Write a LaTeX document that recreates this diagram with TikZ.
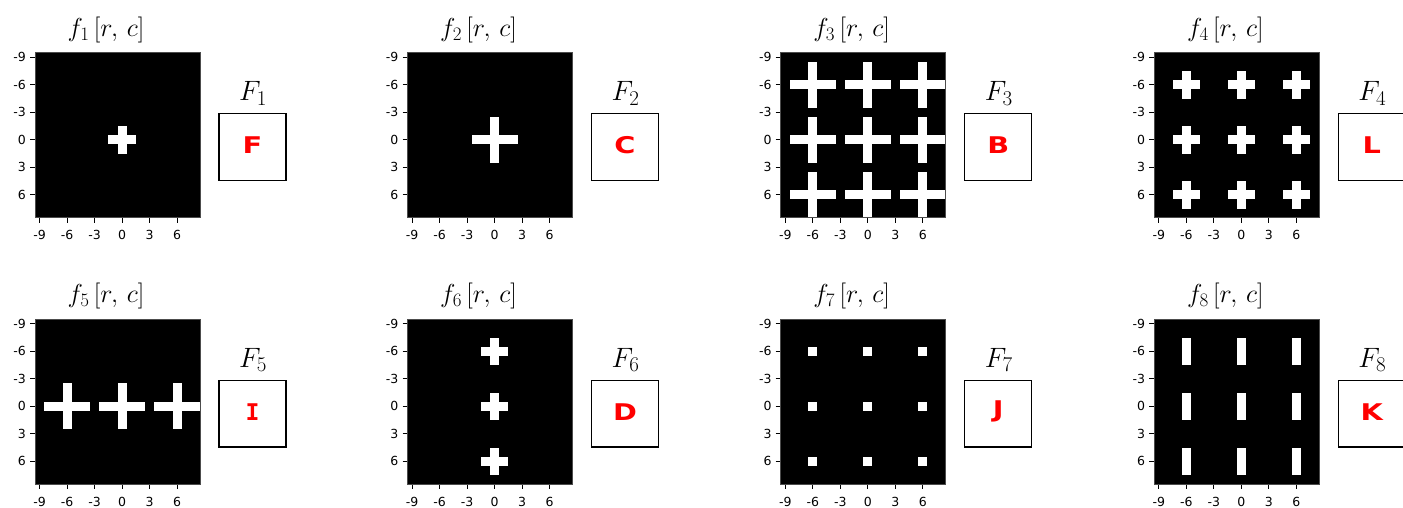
\RequirePackage{fix-cm}
\documentclass[tikz,border=0pt]{standalone}
\usepackage[no-math]{fontspec}
\newfontfamily\tickfont{DejaVu Sans}
\newfontfamily\letterfont{DejaVu Sans}
\newfontfamily\monoletterfont{DejaVu Sans Mono}
\DeclareMathSizes{26}{26}{19}{14}
\DeclareMathSizes{28}{28}{21}{15}
\tikzset{
  pixfill/.style={fill=white},
  tickline/.style={draw=black,line width=1pt},
  ticklab/.style={font=\tickfont\fontsize{12.5}{13}\selectfont,inner sep=0pt},
  titlelab/.style={font=\fontsize{26}{28}\selectfont,inner sep=0pt,anchor=base},
  boxlab/.style={font=\fontsize{28}{30}\selectfont,inner sep=0pt,anchor=base},
  letterbox/.style={draw=black,line width=1.3pt,fill=white},
  letterlab/.style={text=red,inner sep=0pt,xscale=1.25,font=\letterfont\fontsize{23}{23}\selectfont\bfseries}
}
% white rectangle over cells: ox, oy, c1, c2, r1, r2
\newcommand\wrectpx[6]{\fill[pixfill] ({#1+(#3+9)*9.1667},{#2+(#5+9)*9.1667}) rectangle ({#1+(#4+10)*9.1667},{#2+(#6+10)*9.1667});}
\newcommand\smallplusPx[4]{\wrectpx{#1}{#2}{#3-1}{#3+1}{#4}{#4}\wrectpx{#1}{#2}{#3}{#3}{#4-1}{#4+1}}
\newcommand\bigplusPx[4]{\wrectpx{#1}{#2}{#3-2}{#3+2}{#4}{#4}\wrectpx{#1}{#2}{#3}{#3}{#4-2}{#4+2}}
\newcommand\onedotPx[4]{\wrectpx{#1}{#2}{#3}{#3}{#4}{#4}}
\newcommand\vbarPx[4]{\wrectpx{#1}{#2}{#3}{#3}{#4-1}{#4+1}}
% panel frame: ox, oy, index
\newcommand\panelbase[3]{%
  \fill[black] (#1,#2) rectangle ({#1+165},{#2+165});
  \foreach \v in {-9,-6,-3,0,3,6}{
    \draw[tickline] ({#1+(\v+9.5)*9.1667},{#2+165}) -- ({#1+(\v+9.5)*9.1667},{#2+170});
    \node[ticklab,anchor=base] at ({#1+(\v+9.5)*9.1667},{#2+187}) {\v};
    \draw[tickline] ({#1-5},{#2+(\v+9.5)*9.1667}) -- (#1,{#2+(\v+9.5)*9.1667});
    \node[ticklab,anchor=base east] at ({#1-9},{#2+(\v+9.5)*9.1667+4.6}) {\v};
  }
  \node[titlelab] (t#3) at ({#1+71},{#2-16.4}) {$f_{#3}\,[r,\,c]$};
  \draw[letterbox] ({#1+184},{#2+61}) rectangle ({#1+251},{#2+127.6});
  \coordinate (b#3) at ({#1+217.5},{#2+92.5});
  \node[boxlab] (F#3) at ({#1+218},{#2+48.3}) {$F_{#3}$};
}
\newcommand\panelborder[2]{\draw[draw=black!70,line width=1pt] (#1,#2) rectangle ({#1+165},{#2+165});}
\begin{document}
\begin{tikzpicture}[x=1pt,y=-1pt]
\useasboundingbox (0,0) rectangle (1403,508);
\clip (0,0) rectangle (1403,508);
\fill[white] (0,0) rectangle (1403,508);
% ---------- row 1 ----------
\panelbase{35}{52.7}{1}
\smallplusPx{35}{52.7}{0}{0}
\panelborder{35}{52.7}
\node[letterlab] (L1) at (b1) {F};

\panelbase{407.5}{52.7}{2}
\bigplusPx{407.5}{52.7}{0}{0}
\panelborder{407.5}{52.7}
\node[letterlab] (L2) at (b2) {C};

\panelbase{780.7}{52.7}{3}
\foreach \c in {-6,0,6}{\foreach \r in {-6,0,6}{\bigplusPx{780.7}{52.7}{\c}{\r}}}
\panelborder{780.7}{52.7}
\node[letterlab] (L3) at (b3) {B};

\panelbase{1154.3}{52.7}{4}
\foreach \c in {-6,0,6}{\foreach \r in {-6,0,6}{\smallplusPx{1154.3}{52.7}{\c}{\r}}}
\panelborder{1154.3}{52.7}
\node[letterlab] (L4) at (b4) {L};

% ---------- row 2 ----------
\panelbase{35}{319.3}{5}
\foreach \c in {-6,0,6}{\bigplusPx{35}{319.3}{\c}{0}}
\panelborder{35}{319.3}
\node[letterlab,xscale=0.8,font=\monoletterfont\fontsize{23}{23}\selectfont\bfseries] (L5) at (b5) {I};

\panelbase{407.5}{319.3}{6}
\foreach \r in {-6,0,6}{\smallplusPx{407.5}{319.3}{0}{\r}}
\panelborder{407.5}{319.3}
\node[letterlab] (L6) at (b6) {D};

\panelbase{780.7}{319.3}{7}
\foreach \c in {-6,0,6}{\foreach \r in {-6,0,6}{\onedotPx{780.7}{319.3}{\c}{\r}}}
\panelborder{780.7}{319.3}
\node[letterlab] (L7) at (b7) {J};

\panelbase{1154.3}{319.3}{8}
\foreach \c in {-6,0,6}{\foreach \r in {-6,0,6}{\vbarPx{1154.3}{319.3}{\c}{\r}}}
\panelborder{1154.3}{319.3}
\node[letterlab] (L8) at (b8) {K};
\end{tikzpicture}
\end{document}
